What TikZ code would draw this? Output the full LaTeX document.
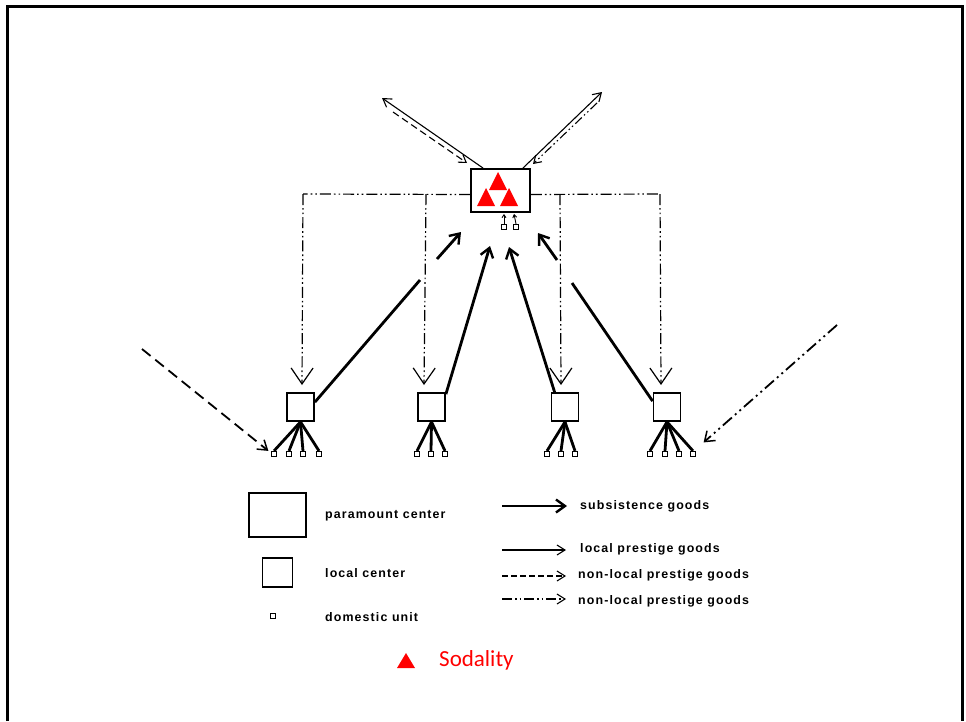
\documentclass[tikz,border=0pt]{standalone}
\usepackage{fontspec}
\setmainfont{Liberation Sans}
\newfontfamily\legendfont[LetterSpace=9]{Liberation Sans}
\newfontfamily\slidefont{Carlito}
\usetikzlibrary{arrows.meta}

\begin{document}
\begin{tikzpicture}[x=1pt,y=-1pt,
  box/.style={draw, line width=1.8pt, inner sep=0pt},
  unit/.style={draw, line width=1.2pt, minimum size=5pt, inner sep=0pt},
  fan/.style={line width=2.8pt},
  subsist/.style={line width=2.8pt, -{Straight Barb[length=9pt,width=13pt,line width=2.4pt]}},
  subline/.style={line width=2.8pt},
  prestige/.style={line width=1.1pt, -{Straight Barb[length=8pt,width=10pt]}},
  ddot/.style={line width=1.2pt, dash pattern=on 11pt off 3pt on 1.6pt off 3pt on 1.6pt off 3pt},
  vtip/.style={-{Straight Barb[length=16pt,width=22pt,line width=1.2pt]}},
  extdash/.style={line width=1.8pt, dash pattern=on 11pt off 6pt, -{Straight Barb[length=9pt,width=12pt,line width=1.5pt]}},
  extddot/.style={line width=1.8pt, dash pattern=on 12pt off 4pt on 2pt off 4pt on 2pt off 4pt, -{Straight Barb[length=9pt,width=13pt,line width=1.5pt]}},
  lbl/.style={anchor=west, inner sep=0pt, font=\legendfont\fontsize{12.4}{14}\selectfont\bfseries}
]
\useasboundingbox (0,0) rectangle (966,721);

% slide frame
\draw[line width=3pt] (7,721) -- (7,6) -- (962,6) -- (962,721);

% paramount center with sodality triangles
\node[box, minimum width=59pt, minimum height=43pt] (P) at (500.5,190.5) {};
\fill[red] (489,190) -- (507,190) -- (498,172) -- cycle;
\fill[red] (477,206) -- (495,206) -- (486,188) -- cycle;
\fill[red] (500,206) -- (518,206) -- (509,188) -- cycle;

% domestic units of the paramount center
\node[unit] (p1) at (504,227) {};
\node[unit] (p2) at (516,227) {};
\draw[line width=0.9pt, -{Straight Barb[length=3pt,width=4pt]}] (p1.north) -- ++(0,-10);
\draw[line width=0.9pt, -{Straight Barb[length=3pt,width=4pt]}] (p2.north) -- ++(-2,-10);

% exchange beyond the chiefdom
\coordinate (outL) at (382,98);
\coordinate (outLd) at (393,112);
\coordinate (outR) at (602,92);
\coordinate (outRd) at (597,103);
\draw[prestige] ([xshift=13pt]P.north west) -- (outL);
\draw[line width=1.1pt, dash pattern=on 7pt off 4pt, -{Straight Barb[length=7pt,width=9pt]}] (outLd) -- (467,163);
\draw[prestige] ([xshift=-8pt]P.north east) -- (outR);
\draw[line width=1.1pt, dash pattern=on 9pt off 3pt on 1.5pt off 3pt on 1.5pt off 3pt, -{Straight Barb[length=7pt,width=9pt]}] (outRd) -- (533,164);

% local centers
\node[box, minimum width=27pt, minimum height=28pt] (L1) at (300.5,407) {};
\node[box, minimum width=27pt, minimum height=28pt] (L2) at (431.5,407) {};
\node[box, minimum width=27pt, minimum height=28pt] (L3) at (565,407) {};
\node[box, minimum width=27pt, minimum height=28pt] (L4) at (667,407) {};

% non-local goods redistributed from the paramount center
\coordinate (h1) at (303,194);
\coordinate (h2) at (426,194);
\coordinate (h3) at (560,194);
\coordinate (h4) at (660,194);
\coordinate (v1) at (302,385);
\coordinate (v2) at (424,385);
\coordinate (v3) at (561,385);
\coordinate (v4) at (661,385);
\draw[ddot] ([yshift=-4pt]P.west) -- (h1);
\draw[ddot] ([yshift=-4pt]P.east) -- (h4);
\draw[ddot, vtip] (h1) -- (v1);
\draw[ddot, vtip] (h2) -- (v2);
\draw[ddot, vtip] (h3) -- (v3);
\draw[ddot, vtip] (h4) -- (v4);

% subsistence goods sent up to the paramount center
\coordinate (s1a) at (420,280);
\coordinate (s1b) at (437,259);
\coordinate (s1c) at (461,232);
\draw[subline] ([yshift=-10pt]L1.north east) -- (s1a);
\draw[subsist] (s1b) -- (s1c);
\draw[subsist] ([yshift=-2pt]L2.north east) -- (490,246);
\draw[subsist] ([xshift=4pt]L3.north west) -- (509,247);
\coordinate (s4a) at (572,283);
\coordinate (s4b) at (557,260);
\coordinate (s4c) at (538,233);
\draw[subline] ([yshift=-9pt]L4.north west) -- (s4a);
\draw[subsist] (s4b) -- (s4c);

% domestic units of the local centers
\foreach \n/\x in {11/274, 12/289, 13/303, 14/319} {\node[unit] (d\n) at (\x,454) {};
  \draw[fan] (L1.south) -- (d\n.north);}
\foreach \n/\x in {21/417, 22/431, 23/445} {\node[unit] (d\n) at (\x,454) {};
  \draw[fan] (L2.south) -- (d\n.north);}
\foreach \n/\x in {31/547, 32/561, 33/575} {\node[unit] (d\n) at (\x,454) {};
  \draw[fan] (L3.south) -- (d\n.north);}
\foreach \n/\x in {41/650, 42/665, 43/679, 44/693} {\node[unit] (d\n) at (\x,454) {};
  \draw[fan] (L4.south) -- (d\n.north);}

% goods arriving from outside
\coordinate (extL) at (142,349);
\coordinate (extR) at (837,325);
\draw[extdash] (extL) -- ([xshift=-2.5pt]d11.north west);
\draw[extddot] (extR) -- ([xshift=7.5pt,yshift=8.5pt]d44.north east);

% legend: symbols
\node[box, minimum width=57pt, minimum height=44pt] (kP) at (277.5,515) {};
\node[box, minimum width=30pt, minimum height=29pt] (kL) at (277.5,572.5) {};
\node[unit] (kD) at (273,616) {};
\node[lbl] (tP) at (325,516) {paramount center};
\node[lbl] (tL) at (325,573) {local center};
\node[lbl] (tD) at (325,617) {domestic unit};

% legend: flows
\coordinate (a1) at (502,506); \coordinate (b1) at (567,506);
\coordinate (a2) at (502,550); \coordinate (b2) at (566,550);
\coordinate (a3) at (502,576); \coordinate (b3) at (566,576);
\coordinate (a4) at (502,599); \coordinate (b4) at (566,599);
\draw[subsist] (a1) -- (b1);
\draw[prestige] (a2) -- (b2);
\draw[line width=1.1pt, dash pattern=on 6pt off 3pt, -{Straight Barb[length=8pt,width=10pt]}] (a3) -- (b3);
\draw[line width=1.1pt, dash pattern=on 10pt off 3pt on 1.5pt off 3pt on 1.5pt off 3pt, -{Straight Barb[length=8pt,width=10pt]}] (a4) -- (b4);
\node[lbl] (t1) at (580,506) {subsistence goods};
\node[lbl] (t2) at (580,549) {local prestige goods};
\node[lbl] (t3) at (578,575) {non-local prestige goods};
\node[lbl] (t4) at (578,601) {non-local prestige goods};

% sodality key
\fill[red] (397,668) -- (415,668) -- (406,653) -- cycle;
\node[anchor=west, inner sep=0pt, text=red, font=\slidefont\fontsize{23}{26}\selectfont] (sod) at (439,660) {Sodality};
\end{tikzpicture}
\end{document}
